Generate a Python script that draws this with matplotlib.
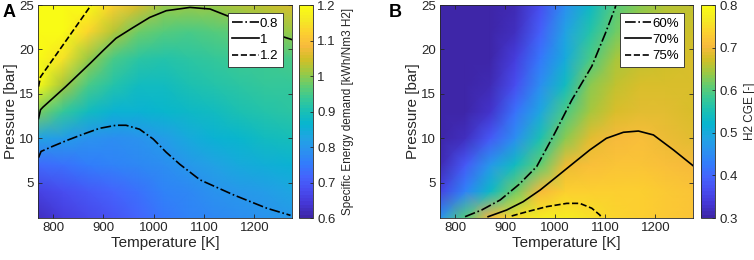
import numpy as np
import matplotlib
matplotlib.use('Agg')
import matplotlib.pyplot as plt
from matplotlib.colors import LinearSegmentedColormap
from matplotlib.ticker import FormatStrFormatter

plt.rcParams['font.family'] = ['Liberation Sans', 'DejaVu Sans']

# grid nodes
temp_k = [770, 820, 870, 920, 970, 1020, 1070, 1120, 1170, 1220, 1275]
pres_bar = [1, 4, 7, 10, 13, 16, 19, 22, 25]

# A: specific energy demand [kWh/Nm3 H2], one row per pressure
sed = [
    [0.62, 0.65, 0.67, 0.69, 0.72, 0.745, 0.76, 0.77, 0.78, 0.79, 0.797],
    [0.66, 0.68, 0.70, 0.72, 0.74, 0.76, 0.775, 0.79, 0.805, 0.815, 0.825],
    [0.73, 0.74, 0.75, 0.76, 0.77, 0.785, 0.805, 0.82, 0.835, 0.85, 0.86],
    [0.82, 0.81, 0.795, 0.785, 0.79, 0.81, 0.835, 0.855, 0.87, 0.885, 0.895],
    [0.99, 0.93, 0.89, 0.86, 0.86, 0.87, 0.88, 0.89, 0.90, 0.91, 0.92],
    [1.20, 1.02, 0.95, 0.91, 0.89, 0.89, 0.90, 0.91, 0.92, 0.93, 0.935],
    [1.30, 1.15, 1.01, 0.95, 0.92, 0.915, 0.92, 0.93, 0.94, 0.945, 0.95],
    [1.30, 1.26, 1.13, 1.03, 0.98, 0.96, 0.955, 0.96, 0.97, 0.998, 1.01],
    [1.30, 1.30, 1.20, 1.12, 1.05, 1.01, 1.005, 1.008, 1.03, 1.04, 1.05],
]

# B: H2 cold gas efficiency [-]
cge = [
    [0.46, 0.60, 0.70, 0.752, 0.772, 0.775, 0.76, 0.74, 0.732, 0.726, 0.72],
    [0.35, 0.44, 0.53, 0.615, 0.705, 0.73, 0.735, 0.735, 0.73, 0.725, 0.72],
    [0.31, 0.38, 0.47, 0.54, 0.61, 0.694, 0.712, 0.72, 0.718, 0.71, 0.70],
    [0.30, 0.32, 0.38, 0.45, 0.55, 0.63, 0.684, 0.706, 0.707, 0.695, 0.685],
    [0.28, 0.29, 0.33, 0.41, 0.49, 0.595, 0.65, 0.675, 0.685, 0.685, 0.68],
    [0.28, 0.29, 0.31, 0.37, 0.45, 0.54, 0.63, 0.665, 0.675, 0.68, 0.68],
    [0.28, 0.285, 0.30, 0.34, 0.42, 0.50, 0.59, 0.645, 0.66, 0.67, 0.675],
    [0.28, 0.285, 0.295, 0.32, 0.39, 0.48, 0.56, 0.62, 0.645, 0.66, 0.67],
    [0.28, 0.285, 0.29, 0.31, 0.37, 0.45, 0.53, 0.60, 0.63, 0.655, 0.665],
]

# iso-lines (temperature, pressure)
sed_08_t = [771, 776, 800, 830, 860, 892, 925, 945, 972, 999, 1025, 1052, 1092, 1159, 1225, 1272]
sed_08_p = [7.8, 8.5, 9.1, 9.8, 10.45, 11.1, 11.45, 11.45, 11.0, 9.9, 8.4, 7.05, 5.3, 3.6, 2.1, 1.3]
sed_10_t = [771, 775, 780, 825, 875, 900, 925, 959, 992, 1025, 1072, 1112, 1159, 1225, 1275]
sed_10_p = [12.2, 13.2, 13.5, 15.8, 18.5, 19.9, 21.25, 22.46, 23.6, 24.36, 24.73, 24.55, 23.5, 22.0, 21.1]
sed_12_t = [771, 775, 872, 876]
sed_12_p = [15.8, 16.9, 24.7, 25.0]

cge_60_t = [820, 853, 890, 928, 963, 999, 1033, 1073, 1100, 1119, 1121]
cge_60_p = [1.15, 1.9, 3.03, 4.8, 6.8, 10.55, 14.3, 18.1, 21.8, 24.6, 25.0]
cge_70_t = [866, 903, 936, 970, 1003, 1036, 1069, 1102, 1136, 1166, 1196, 1236, 1275]
cge_70_p = [1.15, 1.9, 2.84, 4.16, 5.66, 7.17, 8.67, 9.98, 10.66, 10.8, 10.36, 8.67, 6.9]
cge_75_t = [913, 943, 983, 1023, 1049, 1073, 1089, 1092]
cge_75_p = [1.23, 1.7, 2.28, 2.65, 2.65, 2.1, 1.34, 1.07]

# parula-like colormap
parula = LinearSegmentedColormap.from_list('parula', [
    (0.2422, 0.1504, 0.6603), (0.2706, 0.2147, 0.8364), (0.2813, 0.3006, 0.9414),
    (0.2699, 0.3892, 0.9906), (0.1963, 0.4847, 0.9892), (0.1687, 0.5703, 0.9359),
    (0.1248, 0.6459, 0.8883), (0.0297, 0.7082, 0.8163), (0.0964, 0.7500, 0.7120),
    (0.2161, 0.7843, 0.5923), (0.3909, 0.8029, 0.4354), (0.6174, 0.7876, 0.2612),
    (0.8203, 0.7498, 0.1535), (0.9728, 0.7298, 0.2394), (0.9892, 0.8136, 0.1885),
    (0.9597, 0.9135, 0.1423), (0.9769, 0.9839, 0.0805)], N=64)

dark = '#262626'
fig = plt.figure(figsize=(7.54, 2.6), dpi=100)


def panel(rect, cbrect, z, vmin, vmax, lines, labels, cblabel, cbticks, letter, lx):
    ax = fig.add_axes(rect)
    im = ax.pcolormesh(temp_k, pres_bar, np.array(z), shading='gouraud',
                       cmap=parula, vmin=vmin, vmax=vmax)
    styles = ['-.', '-', '--']
    for (t, p), ls, lab in zip(lines, styles, labels):
        ax.plot(t, p, color='k', ls=ls, lw=1.2, label=lab)
    ax.set_xlim(770, 1275)
    ax.set_ylim(1, 25)
    ax.set_xticks([800, 900, 1000, 1100, 1200])
    ax.set_yticks([5, 10, 15, 20, 25])
    ax.tick_params(direction='in', length=3, width=0.6, top=True, right=True,
                   labelsize=9.5, colors=dark, pad=3)
    for s in ax.spines.values():
        s.set_color(dark)
        s.set_linewidth(0.6)
    ax.set_xlabel('Temperature [K]', fontsize=11, color=dark, labelpad=1)
    ax.set_ylabel('Pressure [bar]', fontsize=11, color=dark, labelpad=1)
    leg = ax.legend(loc='upper right', bbox_to_anchor=(0.975, 0.975), fontsize=9.5,
                    fancybox=False, framealpha=1, edgecolor=dark, handlelength=2.0,
                    handletextpad=0.1, borderpad=0.35, labelspacing=0.3,
                    borderaxespad=0.2)
    leg.get_frame().set_linewidth(0.6)

    cax = fig.add_axes(cbrect)
    cb = fig.colorbar(im, cax=cax, ticks=cbticks)
    cb.ax.yaxis.set_major_formatter(FormatStrFormatter('%g'))
    cb.ax.tick_params(direction='in', length=2, width=0.6, labelsize=9.5, colors=dark)
    cb.outline.set_edgecolor(dark)
    cb.outline.set_linewidth(0.6)
    cb.set_label(cblabel, fontsize=8.5, color=dark, labelpad=4)
    fig.text(lx, 0.985, letter, fontsize=13, fontweight='bold', va='top', ha='left')
    return ax


panel([0.0504, 0.1615, 0.3369, 0.8192], [0.3959, 0.1615, 0.0186, 0.8192],
      sed, 0.6, 1.2,
      [(sed_08_t, sed_08_p), (sed_10_t, sed_10_p), (sed_12_t, sed_12_p)],
      ['0.8', '1', '1.2'], 'Specific Energy demand [kWh/Nm3 H2]',
      [0.6, 0.7, 0.8, 0.9, 1.0, 1.1, 1.2], 'A', 0.003)

panel([0.5836, 0.1615, 0.3355, 0.8192], [0.9293, 0.1615, 0.0186, 0.8192],
      cge, 0.3, 0.8,
      [(cge_60_t, cge_60_p), (cge_70_t, cge_70_p), (cge_75_t, cge_75_p)],
      ['60%', '70%', '75%'], 'H2 CGE [-]',
      [0.3, 0.4, 0.5, 0.6, 0.7, 0.8], 'B', 0.516)

fig.savefig('out.png', dpi=100)
